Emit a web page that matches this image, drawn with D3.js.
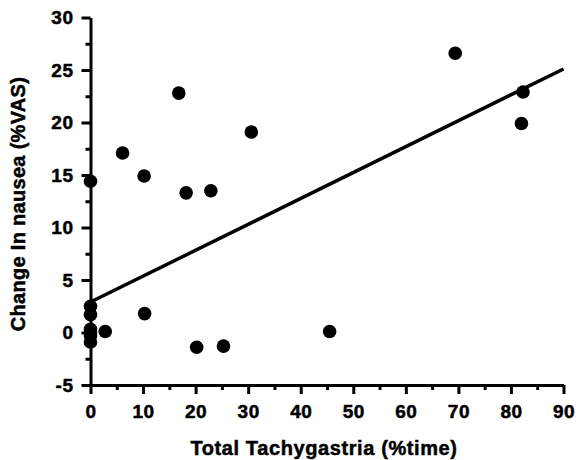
<!DOCTYPE html>
<html lang="en">
<head>
<meta charset="UTF-8">
<title>Tachygastria vs nausea</title>
<style>
  body { margin: 0; background: #fff; }
  svg text { font-family: "Liberation Sans", Arial, Helvetica, sans-serif; font-weight: bold; fill: #000; stroke: #000; stroke-width: 0.5px; }
</style>
</head>
<body>
<svg id="chart"></svg>
<script src="https://cdnjs.cloudflare.com/ajax/libs/d3/7.8.5/d3.min.js"></script>
<script>
// points
const tachy  = [0, 0, 0, 0, 0, 0, 0, 2.8, 6.1, 10.2, 10.3, 16.8, 18.2, 20.2, 22.9, 25.3, 30.6, 45.5, 69.4, 82.3, 82.0];
const nausea = [14.4, 2.5, 1.7, 0.3, -0.3, -0.9, 0.0, 0.1, 17.1, 14.9, 1.8, 22.8, 13.3, -1.4, 13.5, -1.3, 19.1, 0.1, 26.6, 22.9, 19.9];

// fitted regression line (ends)
const fitX = [0, 90];
const fitY = [2.9, 25.1];

const xTicks = [0, 10, 20, 30, 40, 50, 60, 70, 80, 90];
const xMinor = [5, 15, 25, 35, 45, 55, 65, 75, 85];
const yTicks = [-5, 0, 5, 10, 15, 20, 25, 30];
const yMinor = [-2.5, 2.5, 7.5, 12.5, 17.5, 22.5, 27.5];

const width = 576, height = 460;
const svg = d3.select('#chart').attr('width', width).attr('height', height);

const x = d3.scaleLinear().domain([0, 90]).range([90.5, 563.5]);
const y = d3.scaleLinear().domain([-5, 30]).range([385, 17.5]);

const fmt = d => String(d); // plain hyphen for -5

// minor ticks first
svg.append('g')
  .attr('transform', `translate(0,${y(-5)})`)
  .call(d3.axisBottom(x).tickValues(xMinor).tickSize(5).tickFormat(''))
  .call(g => g.select('.domain').remove())
  .selectAll('line').attr('stroke-width', 3);

svg.append('g')
  .attr('transform', `translate(${x(0)},0)`)
  .call(d3.axisLeft(y).tickValues(yMinor).tickSize(5).tickFormat(''))
  .call(g => g.select('.domain').remove())
  .selectAll('line').attr('stroke-width', 3);

const xAxis = svg.append('g')
  .attr('transform', `translate(0,${y(-5)})`)
  .call(d3.axisBottom(x).tickValues(xTicks).tickFormat(fmt).tickSize(9).tickSizeOuter(0).tickPadding(11));

const yAxis = svg.append('g')
  .attr('transform', `translate(${x(0)},0)`)
  .call(d3.axisLeft(y).tickValues(yTicks).tickFormat(fmt).tickSize(9).tickSizeOuter(0).tickPadding(8));

[xAxis, yAxis].forEach(g => {
  g.select('.domain').attr('stroke-width', 3);
  g.selectAll('line').attr('stroke-width', 3);
  g.selectAll('text').style('font-size', '19px').style('letter-spacing', '0.5px');
});

// regression line
svg.append('path')
  .datum(fitX.map((d, i) => [d, fitY[i]]))
  .attr('fill', 'none')
  .attr('stroke', '#000')
  .attr('stroke-width', 3.5)
  .attr('d', d3.line().x(d => x(d[0])).y(d => y(d[1])));

// points
svg.append('g').selectAll('circle')
  .data(tachy.map((d, i) => ({ x: d, y: nausea[i] })))
  .join('circle')
  .attr('cx', d => x(d.x))
  .attr('cy', d => y(d.y))
  .attr('r', 6.8)
  .attr('fill', '#000');

// axis titles
svg.append('text')
  .attr('x', 324).attr('y', 455)
  .attr('text-anchor', 'middle')
  .style('font-size', '20px')
  .style('letter-spacing', '0.6px')
  .text('Total Tachygastria (%time)');

svg.append('text')
  .attr('transform', 'translate(25,204) rotate(-90)')
  .attr('text-anchor', 'middle')
  .style('font-size', '20px')
  .style('letter-spacing', '0.3px')
  .text('Change In nausea (%VAS)');
</script>
</body>
</html>
